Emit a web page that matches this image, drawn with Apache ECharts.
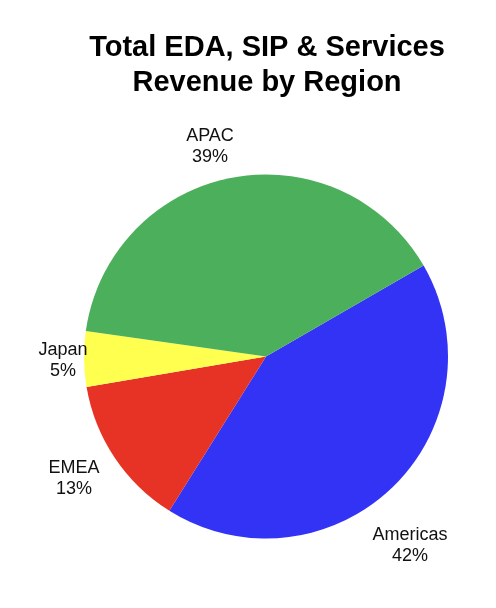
<!DOCTYPE html>
<html>
<head>
<meta charset="utf-8">
<script src="https://cdn.jsdelivr.net/npm/echarts@6/dist/echarts.min.js"></script>
<style>
html,body{margin:0;padding:0;background:#fff;}
#main{width:496px;height:608px;}
</style>
</head>
<body>
<div id="main"></div>
<script>
// Data
const regions = ['Americas', 'EMEA', 'Japan', 'APAC'];
const shares = [42.2, 13.4, 4.9, 39.4];
const titleText = 'Total EDA, SIP & Services\nRevenue by Region';

// Styling
const colors = ['#3333F5', '#E73325', '#FFFF4F', '#4CAF5B'];
const labelCenters = [[410, 546], [74, 479], [63, 361], [210, 147]];

const chart = echarts.init(document.getElementById('main'), null, {renderer: 'canvas'});
chart.setOption({
  backgroundColor: '#ffffff',
  animation: false,
  graphic: [{
    type: 'text',
    x: 267,
    y: 30,
    silent: true,
    style: {
      text: titleText,
      align: 'center',
      verticalAlign: 'top',
      font: 'bold 29px "Liberation Sans", Arial, sans-serif',
      lineHeight: 35,
      fill: '#000'
    }
  }],
  series: [{
    type: 'pie',
    center: [266, 356.5],
    radius: [0, 182],
    startAngle: 30,
    clockwise: true,
    avoidLabelOverlap: false,
    data: regions.map((r, i) => ({name: r, value: shares[i], itemStyle: {color: colors[i]}})),
    itemStyle: {borderWidth: 0},
    label: {
      show: true,
      position: 'outside',
      formatter: p => p.name + '\n' + Math.round(p.percent) + '%',
      fontFamily: 'Liberation Sans, Arial, sans-serif',
      fontSize: 18,
      lineHeight: 21,
      color: '#111',
      align: 'center'
    },
    labelLine: {show: false},
    labelLayout: p => ({
      x: labelCenters[p.dataIndex][0],
      y: labelCenters[p.dataIndex][1],
      align: 'center',
      verticalAlign: 'middle'
    }),
    emphasis: {disabled: true}
  }]
});
</script>
</body>
</html>
